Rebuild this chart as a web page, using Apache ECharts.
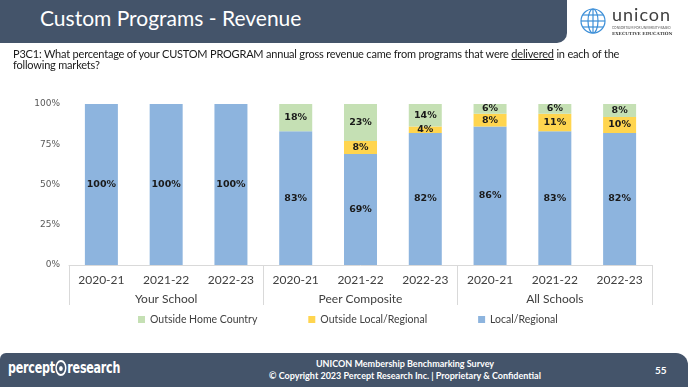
<!DOCTYPE html>
<html>
<head>
<meta charset="utf-8">
<script src="https://cdn.jsdelivr.net/npm/echarts@6/dist/echarts.min.js"></script>
<style>
  html, body { margin:0; padding:0; width:688px; height:387px; overflow:hidden; background:#fff; }
  #chart { position:absolute; left:0; top:0; width:688px; height:387px; }
  .hdr { position:absolute; left:0; top:0; width:567px; height:43px; background:#44546a; border-bottom-right-radius:10px; }
  .title { position:absolute; left:40px; top:5px; font-family:Lato, sans-serif; font-size:21px; color:#fff; white-space:nowrap; }
  .q { position:absolute; left:13px; top:48px; font-family:Lato, sans-serif; font-size:11px; letter-spacing:-0.2px; line-height:11px; color:#1a1a1a; white-space:nowrap; }
  .ftr { position:absolute; left:0; top:353px; width:688px; height:34px; background:#44546a; border-top-left-radius:6px; border-top-right-radius:12px; }
  .ftxt { position:absolute; left:405px; top:5px; transform:translateX(-50%); text-align:center; font-family:Lato, sans-serif; font-weight:bold; font-size:9px; line-height:12px; color:#fff; white-space:nowrap; }
  .pg { position:absolute; left:655px; top:11px; font-family:Lato, sans-serif; font-weight:bold; font-size:10px; color:#fff; }
  .pr { position:absolute; left:8px; top:6px; font-family:"DejaVu Sans", sans-serif; font-weight:bold; font-size:15px; color:#fff; white-space:nowrap; letter-spacing:-0.3px; transform:scaleX(0.74); transform-origin:left center; }
  .logo { position:absolute; left:578px; top:6px; }
</style>
</head>
<body>
<div id="chart"></div>
<div class="hdr"><div class="title">Custom Programs - Revenue</div></div>
<svg class="logo" width="105" height="34" viewBox="0 0 105 34">
  <g fill="none" stroke="#3d8fd8" stroke-width="1.2">
    <circle cx="15" cy="15" r="12"/>
    <ellipse cx="15" cy="15" rx="5" ry="12"/>
    <line x1="15" y1="3" x2="15" y2="27"/>
    <line x1="3" y1="15" x2="27" y2="15"/>
    <line x1="5" y1="9" x2="25" y2="9"/>
    <line x1="5" y1="21" x2="25" y2="21"/>
  </g>
  <text x="34" y="15" font-family="Lato, sans-serif" font-size="18" fill="#404040" letter-spacing="1">unicon</text>
  <text x="34" y="23" font-family="Lato, sans-serif" font-size="3.2" fill="#555">CONSORTIUM FOR UNIVERSITY-BASED</text>
  <text x="34" y="28.5" font-family="DejaVu Serif, serif" font-size="4.3" font-weight="bold" fill="#444">EXECUTIVE EDUCATION</text>
</svg>
<div class="q">P3C1: What percentage of your CUSTOM PROGRAM annual gross revenue came from programs that were <u>delivered</u> in each of the<br>following markets?</div>
<div class="ftr">
  <div class="pr">percept<span style="display:inline-block;width:15px;height:16px;border:2px solid #fff;border-radius:50%;box-sizing:border-box;vertical-align:-3px;margin:0 1px;position:relative;"><span style="position:absolute;left:3px;top:4px;width:5px;height:5px;background:#fff;border-radius:50%;"></span></span>research</div>
  <div class="ftxt">UNICON Membership Benchmarking Survey<br>© Copyright 2023 Percept Research Inc. | Proprietary &amp; Confidential</div>
  <div class="pg">55</div>
</div>
<script>
const years = ['2020-21','2021-22','2022-23','2020-21','2021-22','2022-23','2020-21','2021-22','2022-23'];
const groups = ['Your School','Peer Composite','All Schools'];
const localRegional = [100, 100, 100, 83, 69, 82, 86, 83, 82];
const outsideLocal = [null, null, null, null, 8, 4, 8, 11, 10];
const outsideHome = [null, null, null, 18, 23, 14, 6, 6, 8];
const yTicks = [0, 25, 50, 75, 100];

const chart = echarts.init(document.getElementById('chart'), null, {renderer:'canvas'});
const lbl = {
  show: true, position: 'inside',
  fontFamily: 'DejaVu Sans', fontWeight: 'bold', fontSize: 9.5, color: '#1a1a1a',
  formatter: p => (p.value ? p.value + '%' : '')
};
chart.setOption({
  animation: false,
  grid: { left: 69, right: 36, top: 104, bottom: 122 },
  legend: {
    left: 133, top: 309,
    itemWidth: 7, itemHeight: 7, itemGap: 51, icon: 'rect',
    textStyle: { fontFamily: 'Lato', fontSize: 10.5, color: '#404040' },
    data: ['Outside Home Country', 'Outside Local/Regional', 'Local/Regional']
  },
  xAxis: [
    {
      type: 'category', data: years, position: 'bottom',
      axisLine: { show: false }, axisTick: { show: false },
      axisLabel: { margin: 9, fontFamily: 'Lato', fontSize: 12, color: '#404040' }
    },
    {
      type: 'category', data: groups, position: 'bottom',
      axisLine: { show: true, lineStyle: { color: '#d9d9d9', width: 1 } },
      axisTick: { show: true, length: 40, interval: 0, lineStyle: { color: '#d9d9d9' } },
      axisLabel: { margin: 28, fontFamily: 'Lato', fontSize: 12, color: '#404040' }
    }
  ],
  yAxis: {
    type: 'value', min: 0, max: 100, interval: 25,
    splitLine: { show: false }, axisLine: { show: false }, axisTick: { show: false },
    axisLabel: {
      margin: 9, fontFamily: 'DejaVu Sans', fontSize: 9, color: '#595959',
      formatter: v => (yTicks.includes(v) ? v + '%' : '')
    }
  },
  series: [
    { name: 'Local/Regional', type: 'bar', stack: 's', barWidth: 33, data: localRegional,
      itemStyle: { color: '#8db4de' }, label: lbl },
    { name: 'Outside Local/Regional', type: 'bar', stack: 's', barWidth: 33, data: outsideLocal,
      itemStyle: { color: '#ffd54f' }, label: lbl },
    { name: 'Outside Home Country', type: 'bar', stack: 's', barWidth: 33, data: outsideHome,
      itemStyle: { color: '#c5e0b4' }, label: lbl }
  ]
});
</script>
</body>
</html>
